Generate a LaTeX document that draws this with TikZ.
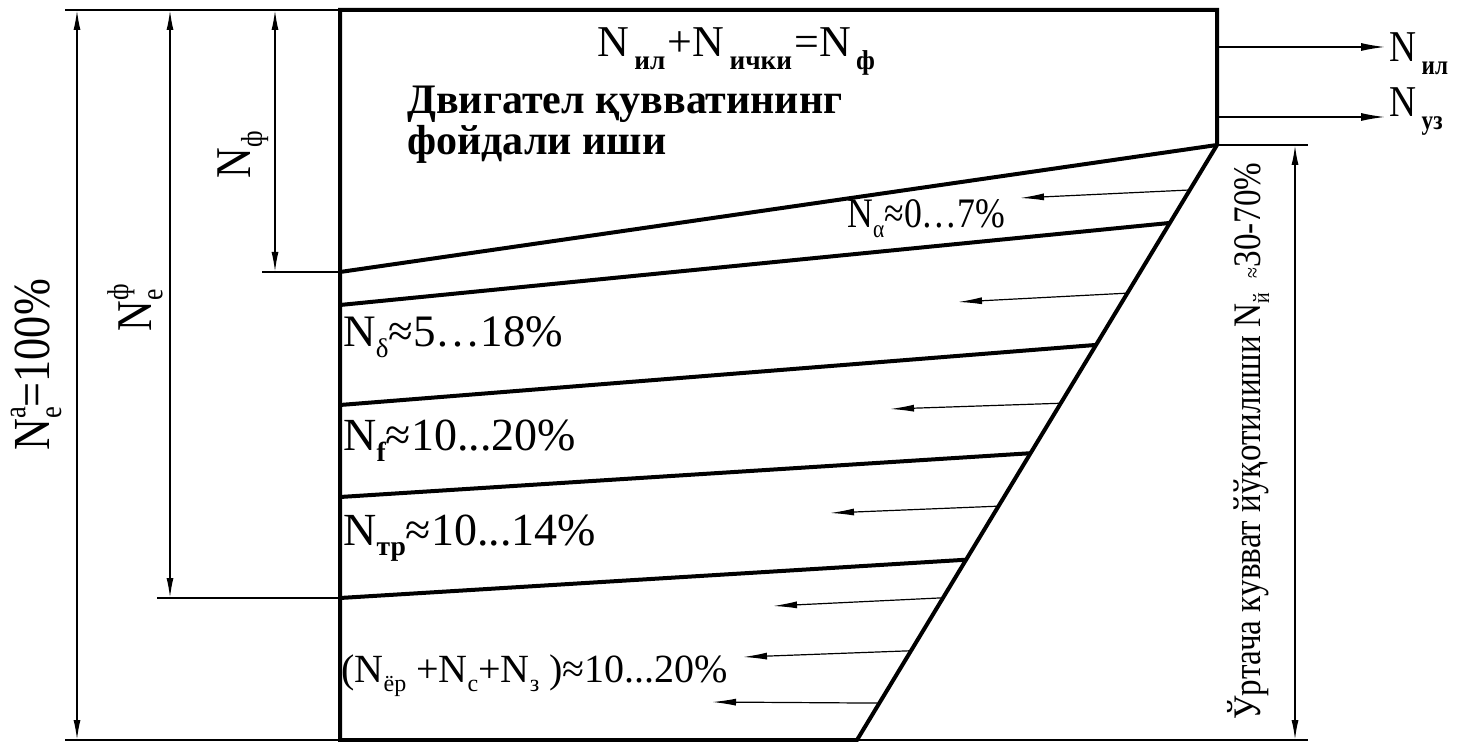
\documentclass[tikz,border=0pt]{standalone}
\usepackage{fontspec}
\usepackage{graphicx}
\setmainfont{Liberation Serif}
\newfontfamily\cond[FakeStretch=0.85]{Liberation Serif}
\usetikzlibrary{arrows.meta,calc}
\newcommand\lo[1]{\raisebox{-0.5ex}{\scalebox{0.6}{#1}}}
\newcommand\slo[1]{\kern0.12em\raisebox{-0.6ex}{\scalebox{0.62}{#1}}\kern0.05em\relax}
\newcommand\hi[1]{\raisebox{1.0ex}{\scalebox{0.6}{#1}}}
\newcommand\subsup[2]{\rlap{\hi{#2}}\lo{#1}}
\newcommand\fs[1]{\fontsize{#1}{#1}\selectfont}
\begin{document}
\begin{tikzpicture}[x=0.5pt,y=-0.5pt,
  thickline/.style={line width=2pt},
  thinline/.style={line width=0.7pt},
  dimarrow/.style={line width=0.8pt,{Latex[length=10pt,width=3.5pt]}-{Latex[length=10pt,width=3.5pt]}},
  lossarrow/.style={line width=0.6pt,-{Latex[length=12pt,width=3.5pt]}},
  outarrow/.style={line width=0.7pt,-{Latex[length=12pt,width=4pt]}},
  lbl/.style={inner sep=0pt,anchor=base west,font=\fs{23}},
  rlbl/.style={inner sep=0pt,rotate=90,font=\cond\fs{25}},
]
\useasboundingbox (0,0) rectangle (1460,742);
% main corners
\coordinate (TL) at (340,10);
\coordinate (TR) at (1217,10);
\coordinate (RC) at (1217,145);
\coordinate (BS) at (857,740);
\coordinate (BL) at (340,740);
% left ends of loss boundaries
\coordinate (A1) at (340,272);
\coordinate (A2) at (340,305);
\coordinate (A3) at (340,405);
\coordinate (A4) at (340,497);
\coordinate (A5) at (340,598);
% right ends on the slanted line
\coordinate (B2) at ($(RC)!0.131!(BS)$);
\coordinate (B3) at ($(RC)!0.336!(BS)$);
\coordinate (B4) at ($(RC)!0.518!(BS)$);
\coordinate (B5) at ($(RC)!0.697!(BS)$);
% box
\draw[thickline] (BL) -- (TL) -- (TR) -- (RC) -- (BS) -- cycle;
\draw[thickline] (A1) -- (RC);
\draw[thickline] (A2) -- (B2);
\draw[thickline] (A3) -- (B3);
\draw[thickline] (A4) -- (B4);
\draw[thickline] (A5) -- (B5);
% extension lines
\coordinate (E1) at (65,10);
\coordinate (E2) at (65,740);
\coordinate (E3) at (262,272);
\coordinate (E4) at (157,598);
\coordinate (E5) at (1308,145);
\coordinate (E6) at (1308,740);
\draw[thinline] (E1) -- (TL);
\draw[line width=1.2pt] (E2) -- (BL);
\draw[line width=1.2pt] (BS) -- (E6);
\draw[thinline] (E3) -- (A1);
\draw[thinline] (E4) -- (A5);
\draw[thinline] (RC) -- (E5);
% dimension lines
\coordinate (D1a) at (77,10);  \coordinate (D1b) at (77,740);
\coordinate (D2a) at (170,10); \coordinate (D2b) at (170,598);
\coordinate (D3a) at (275,10); \coordinate (D3b) at (275,272);
\coordinate (D4a) at (1295,145); \coordinate (D4b) at (1295,740);
\draw[dimarrow] (D1a) -- (D1b);
\draw[dimarrow] (D2a) -- (D2b);
\draw[dimarrow] (D3a) -- (D3b);
\draw[dimarrow] (D4a) -- (D4b);
% loss arrows
\coordinate (S1) at ($(RC)!0.0756!(BS)$); \coordinate (T1) at (1020,198);
\coordinate (S2) at ($(RC)!0.249!(BS)$);  \coordinate (T2) at (958,302);
\coordinate (S3) at ($(RC)!0.434!(BS)$);  \coordinate (T3) at (890,409);
\coordinate (S4) at ($(RC)!0.607!(BS)$);  \coordinate (T4) at (830,513);
\coordinate (S5) at ($(RC)!0.761!(BS)$);  \coordinate (T5) at (773,606);
\coordinate (S6) at ($(RC)!0.850!(BS)$);  \coordinate (T6) at (743,657);
\coordinate (S7) at ($(RC)!0.938!(BS)$);  \coordinate (T7) at (712,702);
\foreach \i in {1,...,7} \draw[lossarrow] (S\i) -- (T\i);
% output arrows
\coordinate (O1) at (1217,47);  \coordinate (P1) at (1385,47);
\coordinate (O2) at (1217,117); \coordinate (P2) at (1385,117);
\draw[outarrow] (O1) -- (P1);
\draw[outarrow] (O2) -- (P2);
\node[lbl,font=\cond\fs{22}] (nil) at (1389,62) {N\slo{\bfseries ил}};
\node[lbl,font=\cond\fs{22}] (nuz) at (1389,117) {N\slo{\bfseries уз}};
% texts inside
\node[lbl,font=\fs{22}] (form) at (597,57) {N\slo{\bfseries ил}+N\slo{\bfseries ички}=N\slo{\bfseries ф}};
\node[lbl,font=\bfseries\fs{21}] (dv1) at (407,114) {Двигател қувватининг};
\node[lbl,font=\bfseries\fs{21}] (dv2) at (407,155) {фойдали иши};
\node[lbl,font=\cond\fs{21}] (na) at (847,228) {N\lo{α}≈0…7\%};
\node[lbl,font=\fs{22.5}] (nd) at (343,347) {N\lo{δ}≈5…18\%};
\node[lbl] (nf) at (343,451) {N\lo{\bfseries f}≈10...20\%};
\node[lbl] (ntr) at (343,545) {N\lo{\bfseries тр}≈10...14\%};
\node[lbl,font=\fs{20}] (ner) at (341,682) {(N\lo{ёр} +N\lo{с}+N\lo{з} )≈10...20\%};
% rotated labels
\node[rlbl,font=\cond\fs{26}] (lna) at (36,365) {N\subsup{e}{a}=100\%};
\node[rlbl] (lne) at (135,310) {N\subsup{e}{ф}};
\node[rlbl] (lnf) at (243,155) {N\lo{ф}};
\node[rlbl,font=\cond\fs{19.5}] (lny) at (1248,441) {Ўртача кувват йўқотилиши N\lo{й}\ \,\scalebox{0.6}{≈}30-70\%};
\end{tikzpicture}
\end{document}
